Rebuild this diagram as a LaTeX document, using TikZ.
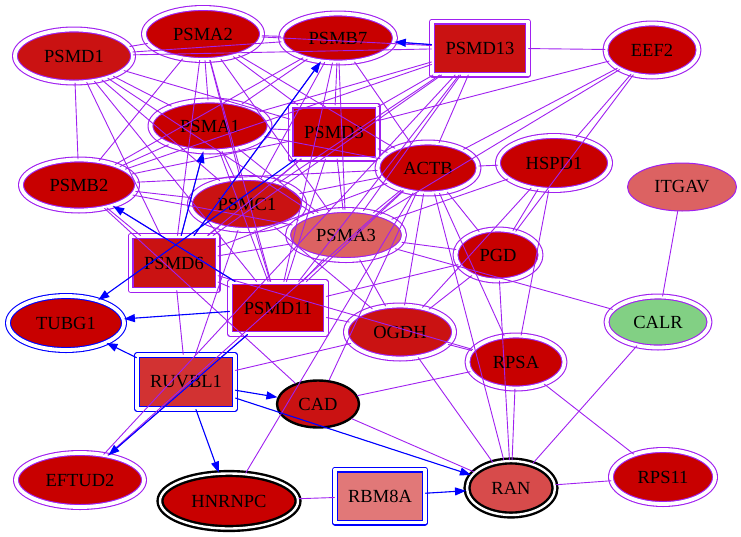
\documentclass[tikz,border=0pt]{standalone}
\usepackage{fontspec}
\setmainfont{Liberation Serif}
\usetikzlibrary{shapes.geometric,arrows.meta}
\definecolor{ppedge}{RGB}{160,32,240}
\definecolor{bbedge}{RGB}{0,0,255}
\definecolor{rrfill}{RGB}{200,0,0}
\definecolor{rdfill}{RGB}{202,18,18}
\definecolor{pkfill}{RGB}{220,98,98}
\definecolor{rnfill}{RGB}{215,75,75}
\definecolor{rvfill}{RGB}{210,50,50}
\definecolor{rbfill}{RGB}{225,120,120}
\definecolor{grfill}{RGB}{130,208,132}

\begin{document}
\begin{tikzpicture}[x=1pt,y=-1pt,line cap=round,line join=round,
  >={Triangle[length=11pt,width=8pt]},
  sz/.style 2 args={minimum width=#1,minimum height=#2},
  gene/.style={ellipse,inner sep=0pt,font=\fontsize{18.5}{20}\selectfont,
    draw=ppedge,double=white,double distance=3.8pt,line width=1.1pt,fill=rrfill},
  genebox/.style={gene,rectangle},
  bluegene/.style={gene,draw=bbedge},
  bluebox/.style={genebox,draw=bbedge},
  seed/.style={gene,draw=black,line width=2.4pt,double distance=2.4pt},
  lone/.style={gene,double=none,line width=1pt},
  pline/.style={draw=ppedge,line width=0.9pt},
  bline/.style={->,draw=bbedge,fill=bbedge,line width=1.1pt}]
\useasboundingbox (0,0) rectangle (741,536);

% nodes
\node[gene,fill=rdfill,sz={118}{53}] (psmd1) at (74,56) {PSMD1};
\node[gene,sz={118}{52}] (psma2) at (203,34) {PSMA2};
\node[gene,sz={114}{49}] (psmb7) at (338,38) {PSMB7};
\node[genebox,fill=rdfill,sz={96}{53}] (psmd13) at (480,48) {PSMD13};
\node[gene,sz={93}{53}] (eef2) at (652,50) {EEF2};
\node[gene,sz={119}{51}] (psma1) at (210,126) {PSMA1};
\node[genebox,sz={87}{53}] (psmd3) at (334,132) {PSMD3};
\node[gene,sz={101}{51}] (actb) at (428,168) {ACTB};
\node[gene,sz={112}{54}] (hspd1) at (554,163) {HSPD1};
\node[lone,fill=pkfill,sz={109}{48}] (itgav) at (682,187) {ITGAV};
\node[gene,sz={116}{51}] (psmb2) at (79,185) {PSMB2};
\node[gene,fill=rdfill,sz={114}{52}] (psmc1) at (247,204) {PSMC1};
\node[gene,fill=pkfill,sz={116}{50}] (psma3) at (346,235) {PSMA3};
\node[gene,sz={85}{51}] (pgd) at (498,255) {PGD};
\node[genebox,fill=rdfill,sz={87}{54}] (psmd6) at (174,263) {PSMD6};
\node[genebox,sz={96}{52}] (psmd11) at (278,308) {PSMD11};
\node[bluegene,sz={116}{54}] (tubg1) at (66,323) {TUBG1};
\node[gene,fill=rdfill,sz={108}{53}] (ogdh) at (400,332) {OGDH};
\node[gene,fill=grfill,sz={103}{51}] (calr) at (658,322) {CALR};
\node[bluebox,fill=rvfill,sz={98}{54}] (ruvbl1) at (186,382) {RUVBL1};
\node[gene,sz={97}{53}] (rpsa) at (516,362) {RPSA};
\node[lone,draw=black,line width=2.4pt,fill=rdfill,sz={82}{47}] (cad) at (318,404) {CAD};
\node[gene,sz={128}{54}] (eftud2) at (80,480) {EFTUD2};
\node[seed,sz={138}{55}] (hnrnpc) at (229,501) {HNRNPC};
\node[bluebox,fill=rbfill,sz={90}{53}] (rbm8a) at (380,496) {RBM8A};
\node[seed,fill=rnfill,sz={88}{54}] (ran) at (511,488) {RAN};
\node[gene,sz={104}{54}] (rps11) at (663,477) {RPS11};

% proteasome block
\foreach \a/\b in {psmd1/psma2,psmd1/psmb7,psmd1/psmd13,psmd1/psma1,psmd1/psmd3,
    psmd1/psmb2,psmd1/psmc1,psmd1/psma3,psmd1/psmd6,psmd1/psmd11,
    psma2/psmb7,psma2/psmd13,psma2/psma1,psma2/psmd3,psma2/psmb2,psma2/psmc1,
    psma2/psma3,psma2/psmd6,psma2/psmd11,
    psmb7/psmd13,psmb7/psma1,psmb7/psmd3,psmb7/psmb2,psmb7/psmc1,psmb7/psma3,
    psmb7/psmd6,psmb7/psmd11,
    psmd13/psma1,psmd13/psmd3,psmd13/psmb2,psmd13/psmc1,psmd13/psma3,
    psmd13/psmd6,psmd13/psmd11,
    psma1/psmd3,psma1/psmb2,psma1/psmc1,psma1/psma3,psma1/psmd6,psma1/psmd11,
    psmd3/psmb2,psmd3/psmc1,psmd3/psma3,psmd3/psmd6,psmd3/psmd11,
    psmb2/psmc1,psmb2/psma3,psmb2/psmd6,psmb2/psmd11,
    psmc1/psma3,psmc1/psmd6,psmc1/psmd11,
    psma3/psmd6,psma3/psmd11,psmd6/psmd11}
  \draw[pline] (\a) -- (\b);

% the rest
\foreach \a/\b in {psmd13/eef2,eef2/psmd3,eef2/actb,eef2/psma3,eef2/hspd1,eef2/pgd,
    actb/hspd1,actb/pgd,actb/ogdh,actb/rpsa,actb/ran,actb/eftud2,actb/cad,
    actb/hnrnpc,actb/psmd13,actb/psmb7,actb/psmd3,actb/psma3,actb/psmc1,
    actb/psmb2,actb/psmd6,actb/psma1,actb/psmd11,actb/psma2,
    hspd1/pgd,hspd1/rpsa,hspd1/ogdh,hspd1/psma3,
    itgav/calr,calr/psma3,calr/ran,
    rpsa/rps11,rpsa/ran,rpsa/ogdh,rpsa/cad,rpsa/psmd6,
    ogdh/ran,ogdh/pgd,ogdh/psma3,ogdh/psmd11,ogdh/psmc1,ogdh/ruvbl1,
    pgd/ran,pgd/psmd11,pgd/psma3,
    ran/cad,ran/rps11,cad/psmb2,
    ruvbl1/psmd6,ruvbl1/psmc1,hnrnpc/rbm8a,
    eftud2/psmd13,eftud2/psmd11}
  \draw[pline] (\a) -- (\b);

% directed ones
\foreach \a/\b in {psmd13/psmb7,psmd6/psma1,psmd6/psmb7,psmd11/psmb2,
    psmd3/tubg1,psmd11/tubg1,ruvbl1/tubg1,ruvbl1/cad,ruvbl1/ran,
    ruvbl1/hnrnpc,rbm8a/ran,psmd11/eftud2}
  \draw[bline] (\a) -- (\b);
\end{tikzpicture}
\end{document}
